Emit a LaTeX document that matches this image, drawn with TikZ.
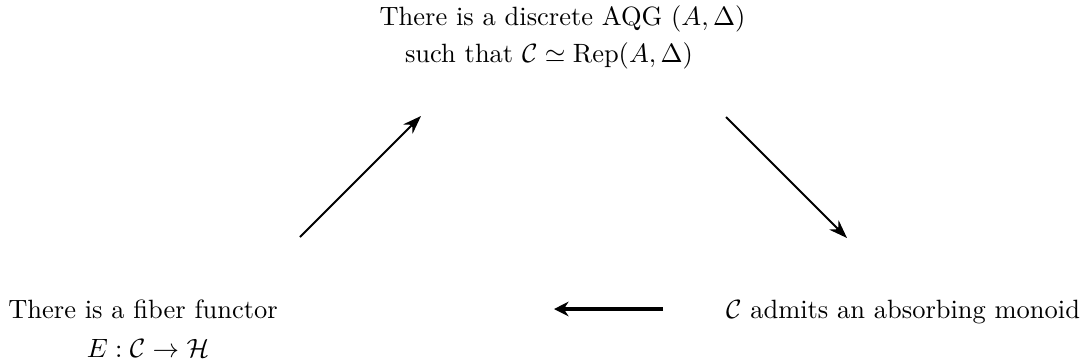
\documentclass[tikz,border=0pt]{standalone}
\usetikzlibrary{arrows.meta}
\begin{document}
\begin{tikzpicture}[x=0.378pt,y=-0.378pt,
  txt/.style={inner sep=0pt,anchor=base},
  arr/.style={line width=0.75pt,-{Stealth[length=7pt,width=5pt]}},
  arrthick/.style={line width=1.6pt,-{Stealth[length=5.5pt,width=5.5pt]}}]
\useasboundingbox (0,0) rectangle (1086,362);
\node[txt] (t1) at (562.5,25) {There is a discrete AQG $(A,\Delta)$};
\node[txt] (t2) at (549,62) {such that $\mathcal{C}\simeq\mathrm{Rep}(A,\Delta)$};
\node[txt] (l1) at (143,318) {There is a fiber functor};
\node[txt] (l2) at (148,357) {$E:\mathcal{C}\to\mathcal{H}$};
\node[txt] (r1) at (903,318) {$\mathcal{C}$ admits an absorbing monoid};
\coordinate (ua) at (300,237);
\coordinate (ub) at (421,116);
\coordinate (da) at (726,117);
\coordinate (db) at (847,238);
\coordinate (ha) at (663,309);
\coordinate (hb) at (554,309);
\draw[arr] (ua) -- (ub);
\draw[arr] (da) -- (db);
\draw[arrthick] (ha) -- (hb);
\end{tikzpicture}
\end{document}
